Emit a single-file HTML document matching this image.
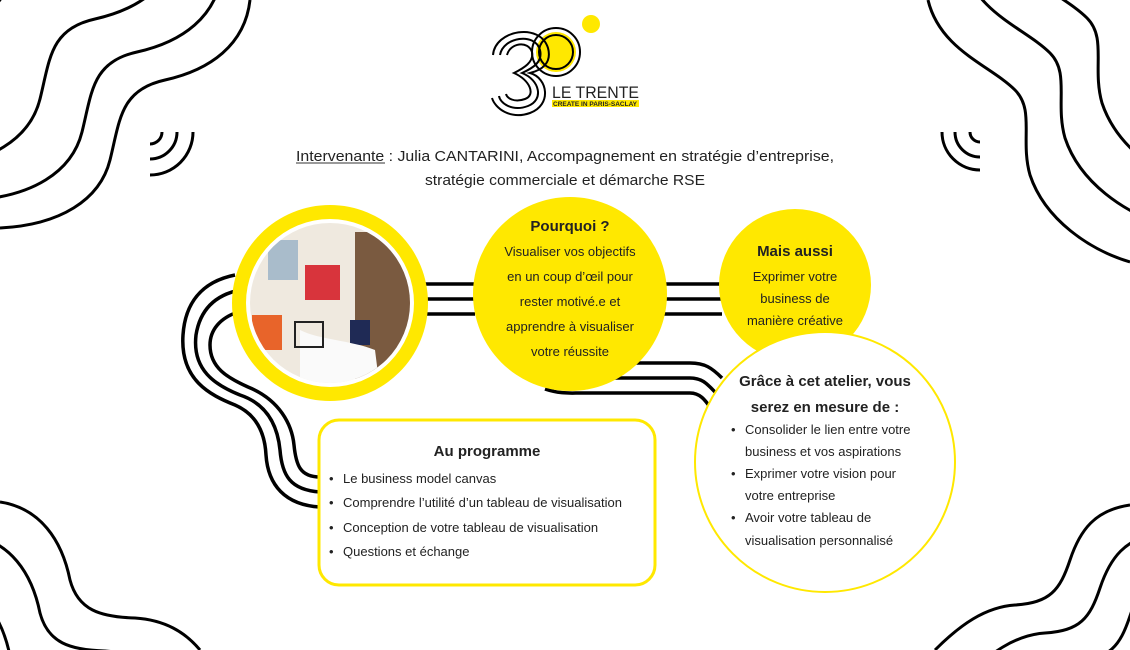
<!DOCTYPE html>
<html><head><meta charset="utf-8"><style>
html,body{margin:0;padding:0;background:#fff;width:1130px;height:650px;overflow:hidden}
svg{display:block}
text{font-family:"Liberation Sans",sans-serif;fill:#222}
.b{font-weight:bold}
</style></head><body>
<svg width="1130" height="650" viewBox="0 0 1130 650" xmlns="http://www.w3.org/2000/svg" style="overflow:hidden">
<defs>
<clipPath id="pc"><circle cx="330" cy="303" r="80"/></clipPath>
<clipPath id="all"><rect x="0" y="0" width="1130" height="650"/></clipPath>
</defs>
<g fill="none" stroke="#000" stroke-width="3" clip-path="url(#all)">
<!-- top-left waves -->
<g id="tl"><path d="M250,0 C245,45 210,70 165,80 C120,90 120,120 110,160 C100,200 60,225 0,228"/></g>
<use href="#tl" transform="translate(-28,-28)"/>
<use href="#tl" transform="translate(-70,-61)"/>
<use href="#tl" transform="translate(-130,-100)"/>
<use href="#tl" transform="translate(-215,-195)"/>
<!-- top-right waves -->
<g id="tr"><path d="M928,0 C940,50 990,65 1015,90 C1035,110 1020,140 1030,175 C1045,220 1090,250 1130,262"/></g>
<use href="#tr" transform="translate(35,-37)"/>
<use href="#tr" transform="translate(72,-72)"/>
<use href="#tr" transform="translate(142,-114)"/>
<!-- bottom-left -->
<g id="bl"><path d="M0,502 C40,508 62,540 70,580 C78,610 100,617 135,618 C165,620 185,632 200,650"/></g>
<use href="#bl" transform="translate(-30,33)"/>
<use href="#bl" transform="translate(-60,76)"/>
<use href="#bl" transform="translate(-90,130)"/>
<!-- bottom-right -->
<g id="br"><path d="M1130,505 C1095,510 1080,530 1070,560 C1060,590 1050,603 1015,605 C985,607 960,625 935,650"/></g>
<use href="#br" transform="translate(30,28)"/>
<use href="#br" transform="translate(60,56)"/>
<!-- small arcs -->
<path d="M162,132 A12,12 0 0 1 150,144"/>
<path d="M177,132 A27,27 0 0 1 150,159"/>
<path d="M193,132 A43,43 0 0 1 150,175"/>
<path d="M970,132 A10,10 0 0 0 980,142"/>
<path d="M955,132 A25,25 0 0 0 980,157"/>
<path d="M942,132 A38,38 0 0 0 980,170"/>
<!-- connectors -->
<path d="M425,284 H475 M425,299 H475 M425,314 H475" stroke-width="3.5"/>
<path d="M662,284 H722 M662,299 H722 M662,314 H722" stroke-width="3.5"/>
<path d="M605,363 H690 C705,363 712,368 722,378" stroke-width="3.5"/>
<path d="M575,378 H690 C703,378 708,385 716,393" stroke-width="3.5"/>
<path d="M545,389 C560,394 570,393 580,393 H690 C700,393 705,400 710,407" stroke-width="3.5"/>
<!-- left loop -->
<path d="M240,290 C215,295 200,310 196,335 C192,370 215,385 240,395 C270,405 278,430 280,450 C282,475 290,490 320,492" stroke-width="3.5"/>
<path d="M235,275 C200,282 185,305 183,335 C180,380 210,395 235,405 C258,415 265,435 266,455 C268,485 285,505 320,507" stroke-width="3.5"/>
<path d="M238,312 C220,318 210,330 210,345 C210,368 228,378 248,387 C280,400 292,425 294,445 C296,465 300,477 320,477" stroke-width="3.5"/>
</g>
<!-- logo -->
<circle cx="591" cy="24" r="9" fill="#ffe800"/>
<circle cx="556" cy="52" r="20" fill="#ffe800"/>
<g fill="none" stroke="#000" stroke-width="2">
<circle cx="556" cy="52" r="17"/><circle cx="556" cy="52" r="24"/>
<path d="M493,55 C495,30 540,22 548,48 C552,63 542,70 530,73 C548,78 552,105 530,113 C510,120 495,108 492,98"/>
<path d="M500,55 C503,37 535,32 540,50 C543,62 533,68 522,73 C540,80 544,100 528,106 C512,112 500,103 499,96"/>
<path d="M507,55 C510,43 528,40 532,52 C534,62 524,68 514,73 C530,80 536,95 525,99 C514,103 507,98 506,94"/>
</g>
<text x="552" y="98" font-size="17" fill="#000" textLength="87" lengthAdjust="spacingAndGlyphs">LE TRENTE</text>
<rect x="552" y="100" width="87" height="7" fill="#ffe800"/>
<text x="553" y="106" font-size="6.5" class="b" fill="#000" textLength="84" lengthAdjust="spacingAndGlyphs">CREATE IN PARIS-SACLAY</text>
<!-- header -->
<text x="296" y="161" font-size="15" fill="#333" textLength="538" lengthAdjust="spacingAndGlyphs">Intervenante : Julia CANTARINI, Accompagnement en stratégie d’entreprise,</text>
<line x1="296" y1="163" x2="385" y2="163" stroke="#333" stroke-width="1"/>
<text x="425" y="185" font-size="15" fill="#333" textLength="280" lengthAdjust="spacingAndGlyphs">stratégie commerciale et démarche RSE</text>
<!-- photo circle -->
<circle cx="330" cy="303" r="98" fill="#ffe800"/>
<circle cx="330" cy="303" r="84" fill="#fff"/>
<g clip-path="url(#pc)">
<rect x="250" y="223" width="160" height="160" fill="#efe9df"/>
<rect x="268" y="240" width="30" height="40" fill="#a9bccb"/>
<rect x="305" y="265" width="35" height="35" fill="#d8343c"/>
<rect x="252" y="315" width="30" height="35" fill="#e8642a"/>
<rect x="355" y="232" width="60" height="150" fill="#7a5a40"/>
<rect x="350" y="320" width="20" height="25" fill="#1f2a55"/>
<path d="M300,330 C320,340 350,340 375,350 L380,390 L300,390 Z" fill="#fafafa"/>
<rect x="295" y="322" width="28" height="25" fill="none" stroke="#222" stroke-width="2"/>
</g>
<!-- pourquoi -->
<circle cx="570" cy="294" r="97" fill="#ffe800"/>
<text x="570" y="231" font-size="15" class="b" text-anchor="middle">Pourquoi ?</text>
<g font-size="13" text-anchor="middle">
<text x="570" y="256">Visualiser vos objectifs</text>
<text x="570" y="281">en un coup d’œil pour</text>
<text x="570" y="306">rester motivé.e et</text>
<text x="570" y="331">apprendre à visualiser</text>
<text x="570" y="356">votre réussite</text>
</g>
<!-- mais aussi -->
<circle cx="795" cy="285" r="76" fill="#ffe800"/>
<text x="795" y="256" font-size="15" class="b" text-anchor="middle">Mais aussi</text>
<g font-size="13" text-anchor="middle">
<text x="795" y="281">Exprimer votre</text>
<text x="795" y="303">business de</text>
<text x="795" y="325">manière créative</text>
</g>
<!-- grace -->
<circle cx="825" cy="462" r="130" fill="#fff" stroke="#ffe800" stroke-width="2"/>
<text x="825" y="386" font-size="15" class="b" text-anchor="middle">Grâce à cet atelier, vous</text>
<text x="825" y="412" font-size="15" class="b" text-anchor="middle">serez en mesure de :</text>
<g font-size="13">
<text x="731" y="434">•</text><text x="745" y="434">Consolider le lien entre votre</text>
<text x="745" y="456">business et vos aspirations</text>
<text x="731" y="478">•</text><text x="745" y="478">Exprimer votre vision pour</text>
<text x="745" y="500">votre entreprise</text>
<text x="731" y="522">•</text><text x="745" y="522">Avoir votre tableau de</text>
<text x="745" y="545">visualisation personnalisé</text>
</g>
<!-- programme -->
<rect x="319" y="420" width="336" height="165" rx="20" fill="#fff" stroke="#ffe800" stroke-width="3"/>
<text x="487" y="456" font-size="15" class="b" text-anchor="middle">Au programme</text>
<g font-size="13">
<text x="329" y="483">•</text><text x="343" y="483">Le business model canvas</text>
<text x="329" y="507">•</text><text x="343" y="507">Comprendre l’utilité d’un tableau de visualisation</text>
<text x="329" y="532">•</text><text x="343" y="532">Conception de votre tableau de visualisation</text>
<text x="329" y="556">•</text><text x="343" y="556">Questions et échange</text>
</g>
</svg>
</body></html>
